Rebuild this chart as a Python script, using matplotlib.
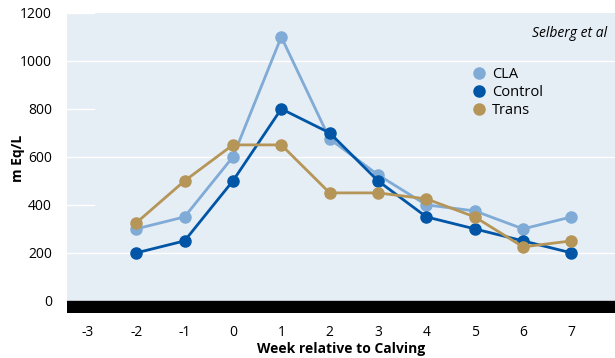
import matplotlib.pyplot as plt
from matplotlib.lines import Line2D

weeks = [-2, -1, 0, 1, 2, 3, 4, 5, 6, 7]
cla = [300, 350, 600, 1100, 675, 525, 400, 375, 300, 350]
control = [200, 250, 500, 800, 700, 500, 350, 300, 250, 200]
trans = [325, 500, 650, 650, 450, 450, 425, 350, 225, 250]

x_ticks = [-3, -2, -1, 0, 1, 2, 3, 4, 5, 6, 7]
y_ticks = [0, 200, 400, 600, 800, 1000, 1200]

series = [
    ('CLA', cla, '#80abd6'),
    ('Control', control, '#0055a6'),
    ('Trans', trans, '#b59658'),
]

plt.rcParams['font.family'] = ['Open Sans', 'DejaVu Sans']
plt.rcParams['axes.unicode_minus'] = False

fig = plt.figure(figsize=(6.15, 3.58), dpi=100)
ax = fig.add_axes([0.109, 0.126, 0.891, 0.838])
ax.set_facecolor('#e5edf5')

ax.set_xlim(-3.43, 7.9)
ax.set_ylim(-50, 1200)

# white grid: full lines on some levels, short stubs on others
for y in [200, 600, 1000]:
    ax.axhline(y, color='white', lw=1.0, zorder=1)
for y in [400, 800, 1200]:
    ax.axhline(y, xmax=0.05, color='white', lw=1.0, zorder=1)

# black base bar below zero
ax.axhspan(-50, 0, color='black', zorder=2)

for name, vals, col in series:
    ax.plot(weeks, vals, color=col, lw=2.0, marker='o', markersize=8,
            zorder=3, label=name)

for s in ax.spines.values():
    s.set_visible(False)

ax.set_xticks(x_ticks)
ax.set_yticks(y_ticks)
ax.tick_params(length=0, labelsize=10, pad=9)
ax.tick_params(axis='y', pad=11)

ax.set_xlabel('Week relative to Calving', fontsize=10, fontweight='bold', labelpad=1)
fig.text(0.029, 0.558, 'm Eq/L', rotation=90, ha='center', va='center',
         fontsize=10, fontweight='bold')

handles = [Line2D([], [], color=c, marker='o', linestyle='none', markersize=8)
           for _, _, c in series]
ax.legend(handles, [n for n, _, _ in series], loc='upper left',
          bbox_to_anchor=(0.712, 0.863), frameon=False, fontsize=10.5,
          handletextpad=0.3, labelspacing=0.2, handlelength=1.2)

ax.text(0.985, 0.955, 'Selberg et al', transform=ax.transAxes, ha='right',
        va='top', fontsize=10, style='italic')

fig.savefig('out.png', dpi=100)
